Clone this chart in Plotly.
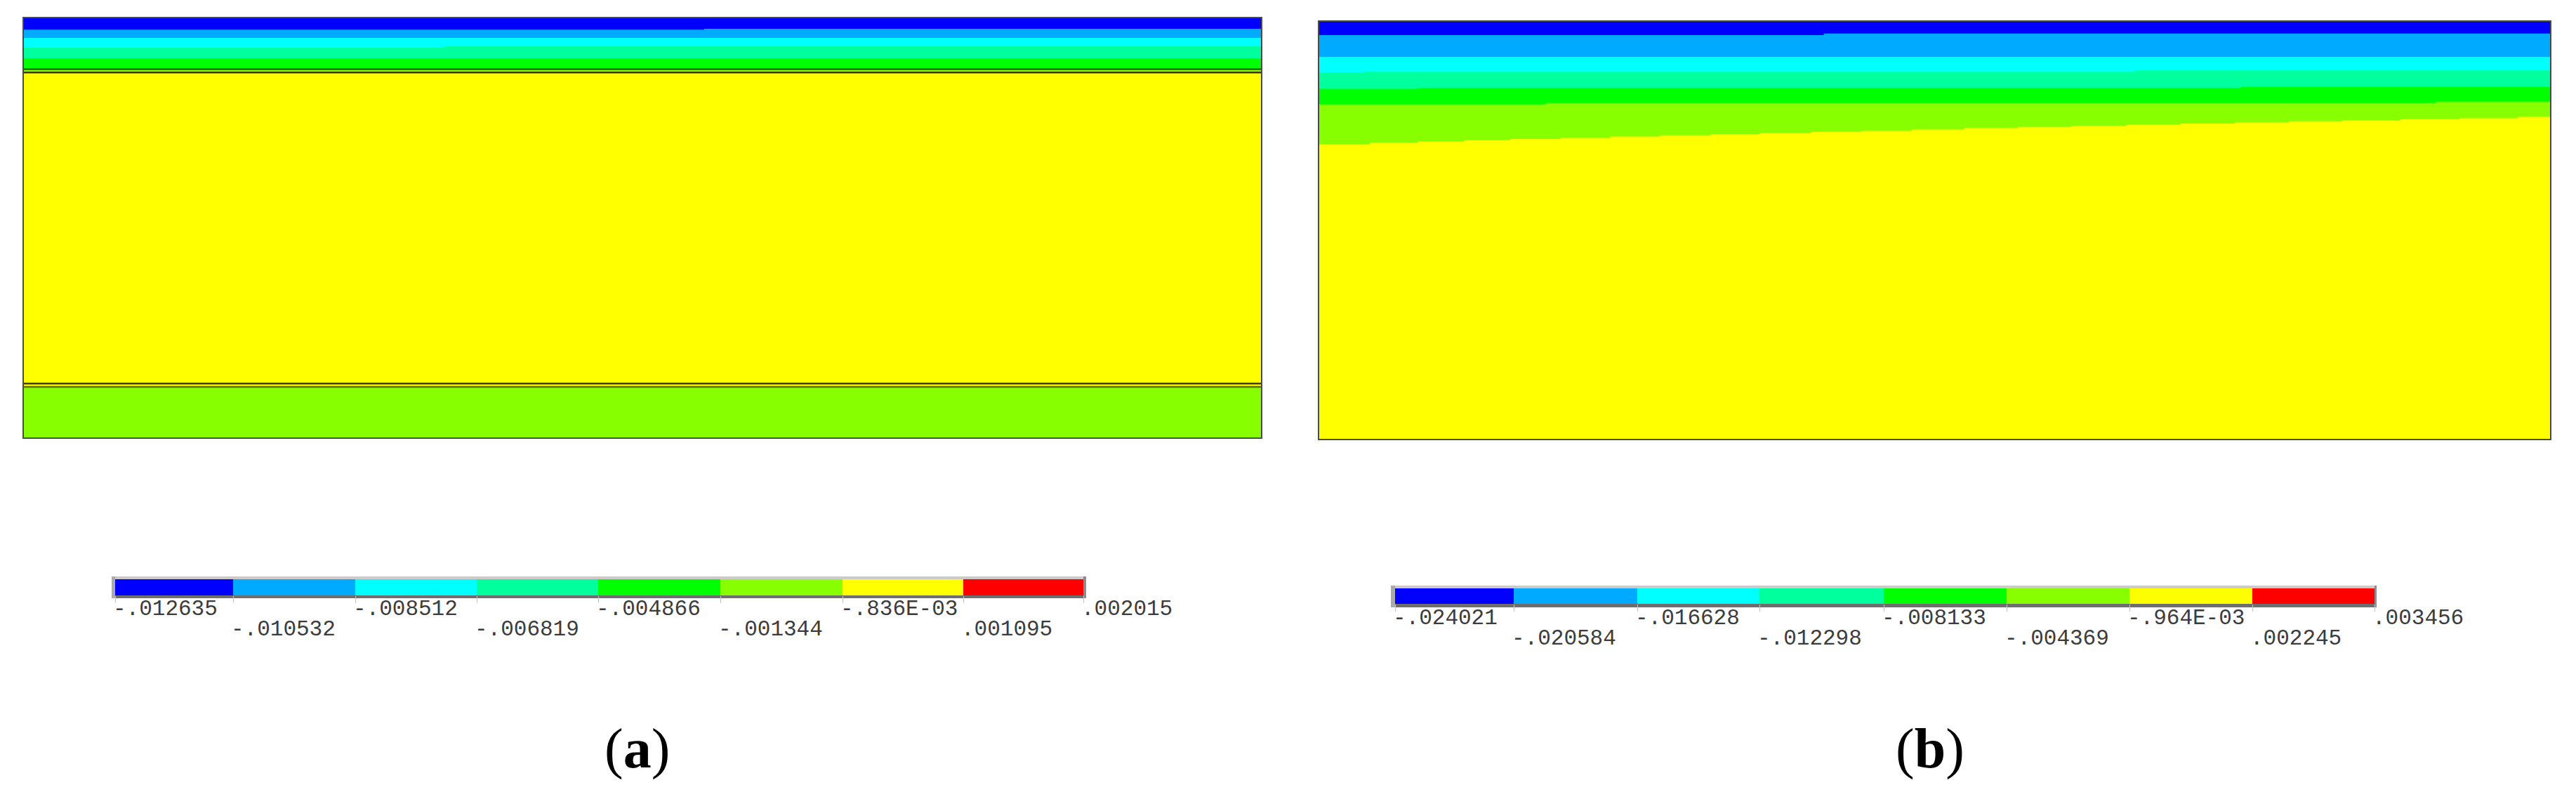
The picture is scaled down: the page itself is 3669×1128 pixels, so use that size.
import plotly.graph_objects as go

W, H = 3669, 1128

# ---------- data ----------
BAND_COLORS = ["#0000ff", "#00aaff", "#00ffff", "#00ff9d", "#00ff00", "#88ff00", "#ffff00", "#ff0000"]

labels_a = ["-.012635", "-.010532", "-.008512", "-.006819", "-.004866", "-.001344", "-.836E-03", ".001095", ".002015"]
labels_b = ["-.024021", "-.020584", "-.016628", "-.012298", "-.008133", "-.004369", "-.964E-03", ".002245", ".003456"]

# Panel (a): contour boundaries, (position along length, depth)
a_blue_x, a_blue_y = [0, 970, 1764], [16.3, 15, 15]
a_lblue_x, a_lblue_y = [0, 1764], [28, 28]
a_cyan_x, a_cyan_y = [0, 600, 1764], [42, 40, 40]
a_teal_x, a_teal_y = [0, 1764], [57, 57]
a_green_x, a_green_y = [0, 1764], [71, 71]
a_lime_x, a_lime_y = [0, 1764], [78, 78]
a_yellow_x, a_yellow_y = [0, 1764], [527, 527]
a_bottom_x, a_bottom_y = [0, 1764], [598, 598]
a_layer_lines = [(72.5, "rgba(0,70,0,0.85)"), (77.5, "rgba(40,40,0,0.9)"),
                 (521, "rgba(40,40,0,0.9)"), (526, "rgba(90,90,0,0.9)")]

# Panel (b)
b_blue_x, b_blue_y = [0, 719, 1754], [19, 16.7, 16.7]
b_lblue_x, b_lblue_y = [0, 1754], [50, 50]
b_cyan_x, b_cyan_y = [0, 64, 1163, 1754], [72.7, 71.3, 69.3, 69.3]
b_teal_x, b_teal_y = [0, 140, 1314, 1754], [95.7, 94.3, 92.7, 92.7]
b_green_x, b_green_y = [0, 323, 1591, 1754], [118, 116, 114, 114]
b_lime_x = [0, 72, 140, 207, 272, 343, 415, 485, 558, 628, 701, 772, 844, 919, 995, 1072,
            1150, 1227, 1305, 1382, 1458, 1541, 1625, 1708, 1754]
b_lime_y = [175, 172.3, 170.7, 169, 167.3, 165.7, 163.7, 162, 160.3, 158.7, 157, 155.7, 153.7,
            151.7, 150, 148.3, 147, 145.3, 143.7, 142, 140.7, 139, 137.7, 135.7, 135.7]
b_bottom_x, b_bottom_y = [0, 1754], [595, 595]

# ---------- layout constants (pixels) ----------
PANEL_A = dict(l=34, r=1796, t=26, b=623)
PANEL_B = dict(l=1879, r=3632, t=31, b=625)
BAR_A = dict(edges=[164, 332, 506, 679, 852, 1026, 1200, 1372, 1543], t=825, b=848,
             ol=159, or_=1547, ot=821, ob=852, row1=867, row2=896)
BAR_B = dict(edges=[1987, 2156, 2332, 2506, 2683, 2858, 3033, 3208, 3382], t=838, b=860,
             ol=1981, or_=3385, ot=834, ob=865, row1=880, row2=909)


def fx(p):
    return p / W


def fy(p):
    return 1 - p / H


fig = go.Figure()


def band(x, y, color, ax):
    fig.add_trace(go.Scatter(x=x, y=y, mode="lines", line=dict(width=0, shape="hv"),
                             fill="tozeroy", fillcolor=color, xaxis=ax[0], yaxis=ax[1],
                             hoverinfo="skip", showlegend=False))


ax_a = ("x", "y")
band(a_bottom_x, a_bottom_y, BAND_COLORS[5], ax_a)
band(a_yellow_x, a_yellow_y, BAND_COLORS[6], ax_a)
band(a_lime_x, a_lime_y, BAND_COLORS[5], ax_a)
band(a_green_x, a_green_y, BAND_COLORS[4], ax_a)
band(a_teal_x, a_teal_y, BAND_COLORS[3], ax_a)
band(a_cyan_x, a_cyan_y, BAND_COLORS[2], ax_a)
band(a_lblue_x, a_lblue_y, BAND_COLORS[1], ax_a)
band(a_blue_x, a_blue_y, BAND_COLORS[0], ax_a)
for depth, col in a_layer_lines:
    fig.add_trace(go.Scatter(x=[0, 1764], y=[depth, depth], mode="lines",
                             line=dict(width=2.5, color=col), xaxis="x", yaxis="y",
                             hoverinfo="skip", showlegend=False))

ax_b = ("x2", "y2")
band(b_bottom_x, b_bottom_y, BAND_COLORS[6], ax_b)
band(b_lime_x, b_lime_y, BAND_COLORS[5], ax_b)
band(b_green_x, b_green_y, BAND_COLORS[4], ax_b)
band(b_teal_x, b_teal_y, BAND_COLORS[3], ax_b)
band(b_cyan_x, b_cyan_y, BAND_COLORS[2], ax_b)
band(b_lblue_x, b_lblue_y, BAND_COLORS[1], ax_b)
band(b_blue_x, b_blue_y, BAND_COLORS[0], ax_b)

# colour bars
n = len(BAND_COLORS)
scale = []
for i, c in enumerate(BAND_COLORS):
    scale += [[i / n, c], [(i + 1) / n, c]]
for bar, xa, ya in ((BAR_A, "x3", "y3"), (BAR_B, "x4", "y4")):
    fig.add_trace(go.Heatmap(x=bar["edges"], y=[0, 1], z=[list(range(n))], zmin=-0.5, zmax=n - 0.5,
                             colorscale=scale, showscale=False, xaxis=xa, yaxis=ya, hoverinfo="skip"))

frame = dict(showline=True, mirror=True, linecolor="#4a4a4a", linewidth=2, showticklabels=False,
             ticks="", showgrid=False, zeroline=False, fixedrange=True)


def bar_x(bar):
    return dict(domain=[fx(bar["edges"][0]), fx(bar["edges"][-1])],
                range=[bar["edges"][0], bar["edges"][-1]], tickvals=bar["edges"],
                ticks="outside", ticklen=10, tickwidth=1, tickcolor="#c4c4c4",
                showticklabels=False, showgrid=False, zeroline=False, showline=False, fixedrange=True)


def bar_y(bar):
    return dict(domain=[fy(bar["b"]), fy(bar["t"])], range=[0, 1], visible=False, fixedrange=True)


shapes = []
for bar in (BAR_A, BAR_B):
    for (x0, x1, y0, y1, c) in (
        (bar["ol"], bar["or_"], bar["ot"], bar["t"], "#cfcaca"),
        (bar["ol"], bar["or_"], bar["b"], bar["ob"], "#6e6e6e"),
        (bar["ol"], bar["edges"][0], bar["ot"], bar["ob"], "#ababab"),
        (bar["edges"][-1], bar["or_"], bar["ot"], bar["ob"], "#8c8c8c"),
    ):
        shapes.append(dict(type="rect", xref="paper", yref="paper", x0=fx(x0), x1=fx(x1),
                           y0=fy(y1), y1=fy(y0), fillcolor=c, line_width=0, layer="below"))

annotations = []
for bar, labels, xa in ((BAR_A, labels_a, "x3"), (BAR_B, labels_b, "x4")):
    for i, text in enumerate(labels):
        row = bar["row1"] if i % 2 == 0 else bar["row2"]
        annotations.append(dict(x=bar["edges"][i], xref=xa, y=fy(row), yref="paper", text=text,
                                showarrow=False, xanchor="left", yanchor="middle", xshift=-5,
                                font=dict(family="Liberation Mono", size=31, color="#3c3c3c")))
for cx, letter in ((907, "a"), (2749, "b")):
    annotations.append(dict(x=fx(cx), xref="paper", y=fy(1066), yref="paper",
                            text=f"(<b>{letter}</b>)", showarrow=False, xanchor="center", yanchor="middle",
                            font=dict(family="Liberation Serif", size=80, color="#000000")))

fig.update_layout(
    width=W, height=H, margin=dict(l=0, r=0, t=0, b=0), autosize=False,
    paper_bgcolor="white", plot_bgcolor="white", showlegend=False,
    xaxis=dict(frame, domain=[fx(PANEL_A["l"]), fx(PANEL_A["r"])], range=[0, 1764]),
    yaxis=dict(frame, domain=[fy(PANEL_A["b"]), fy(PANEL_A["t"])], range=[598, 0]),
    xaxis2=dict(frame, domain=[fx(PANEL_B["l"]), fx(PANEL_B["r"])], range=[0, 1754], anchor="y2"),
    yaxis2=dict(frame, domain=[fy(PANEL_B["b"]), fy(PANEL_B["t"])], range=[595, 0], anchor="x2"),
    xaxis3=dict(bar_x(BAR_A), anchor="y3"),
    yaxis3=dict(bar_y(BAR_A), anchor="x3"),
    xaxis4=dict(bar_x(BAR_B), anchor="y4"),
    yaxis4=dict(bar_y(BAR_B), anchor="x4"),
    shapes=shapes, annotations=annotations,
)

fig.write_html("out.html", config={"displayModeBar": False},
               post_script="document.body.style.margin='0';document.body.style.overflow='hidden';")
